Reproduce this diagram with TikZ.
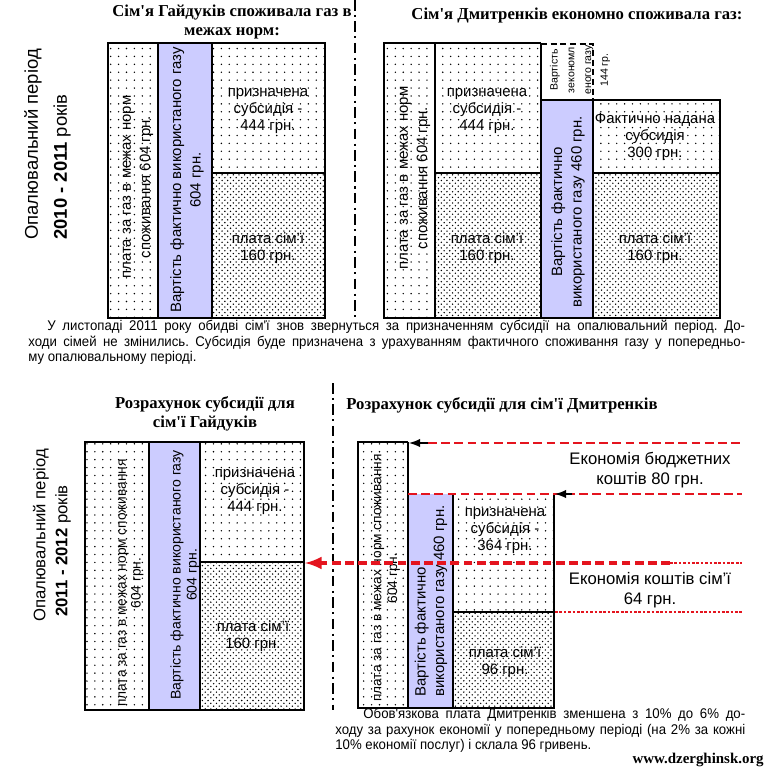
\documentclass[tikz,border=0pt]{standalone}
\usepackage{fontspec}
\setmainfont{Liberation Sans}
\newfontfamily\titlefont{Liberation Serif}
\newfontfamily\storyfont{Liberation Sans}[FakeStretch=0.94]
\usetikzlibrary{patterns}

\definecolor{gasblue}{RGB}{204,204,255}
\definecolor{cutred}{RGB}{228,20,30}

\pgfdeclarepatternformonly{sparsedots}{\pgfqpoint{-1pt}{-1pt}}{\pgfqpoint{1pt}{1pt}}{\pgfqpoint{4.5pt}{4.5pt}}%
  {\pgfpathcircle{\pgfqpoint{0pt}{0pt}}{0.45pt}\pgfusepath{fill}}
\pgfdeclarepatternformonly{densedots}{\pgfqpoint{-1pt}{-1pt}}{\pgfqpoint{3.5pt}{3.5pt}}{\pgfqpoint{3.2pt}{3.2pt}}%
  {\pgfpathcircle{\pgfqpoint{0pt}{0pt}}{0.45pt}\pgfpathcircle{\pgfqpoint{1.6pt}{1.6pt}}{0.45pt}\pgfusepath{fill}}

\tikzset{
  edge/.style={line width=1.5pt},
  sparse/.style={pattern=sparsedots},
  dense/.style={pattern=densedots},
  gas/.style={fill=gasblue},
  cell/.style={font=\fontsize{8.5}{9.8}\selectfont, align=center, inner sep=0pt},
  upcell/.style={cell, rotate=90, font=\fontsize{8.5}{11}\selectfont},
  side/.style={rotate=90, align=left, anchor=west, inner sep=0pt},
  head/.style={font=\titlefont\bfseries\fontsize{9.5}{11}\selectfont, align=center, inner sep=0pt},
  note/.style={font=\fontsize{9.5}{11.5}\selectfont, align=center, inner sep=0pt},
  saving/.style={cutred, line width=1.6pt, dash pattern=on 5pt off 2.5pt},
  thinsaving/.style={cutred, line width=0.6pt, dash pattern=on 1.5pt off 1pt},
  divider/.style={line width=1.4pt, dash pattern=on 6pt off 2.5pt on 1.2pt off 2.5pt},
  story/.style={anchor=north west, align=justify, inner sep=0pt, font=\storyfont\frenchspacing\fontsize{8}{8.8}\selectfont}
}

\begin{document}
\begin{tikzpicture}[x=0.02cm, y=-0.02cm]
    \useasboundingbox (0,0) rectangle (768,768);
    % 2010 - 2011, Гайдуки
    \path[sparse] (108,43) rectangle (158,318);
    \path[gas] (158,43) rectangle (212,318);
    \path[sparse] (212,43) rectangle (325,173);
    \path[dense] (212,173) rectangle (325,318);
    \draw[edge] (108,43) rectangle (325,318);
    \draw[edge] (158,43)--(158,318) (212,43)--(212,318) (212,173)--(325,173);
    \node[head] (tlHead) at (232,22) {Сім'я Гайдуків споживала газ в\\межах норм:};
    \node[side, font=\fontsize{10.5}{12}\selectfont] (tlPeriod) at (33,240) {Опалювальний період};
    \node[side, font=\fontsize{10.5}{12}\selectfont] (tlYears) at (62,240) {\textbf{2010 - 2011} років};
    \node[upcell] (tlNorm) at (138,187) {плата за газ в межах норм\\споживання 604 грн.};
    \node[upcell] (tlCost) at (187,180) {Вартість фактично використаного газу\\604 грн.};
    \node[cell] (tlSub) at (268,111) {призначена\\субсидія -\\444 грн.};
    \node[cell] (tlPay) at (268,248) {плата сім'ї\\160 грн.};

    % 2010 - 2011, Дмитренки
    \path[sparse] (384,43) rectangle (435,318);
    \path[sparse] (435,43) rectangle (541,173);
    \path[dense] (435,173) rectangle (541,318);
    \path[gas] (541,100) rectangle (593,318);
    \path[sparse] (593,100) rectangle (720,173);
    \path[dense] (593,173) rectangle (720,318);
    \draw[edge] (541,43)--(384,43)--(384,318)--(720,318)--(720,100)--(541,100);
    \draw[edge] (435,43)--(435,318) (541,43)--(541,318) (593,100)--(593,318);
    \draw[edge] (435,173)--(541,173) (593,173)--(720,173);
    \draw[line width=1.2pt, dash pattern=on 3.5pt off 2pt] (541,44)--(593,44)--(593,100);
    \node[head] (trHead) at (577,15) {Сім'я Дмитренків економно споживала газ:};
    \node[upcell] (trNorm) at (415,178) {плата за газ в межах норм\\споживання 604 грн.};
    \node[cell] (trSub) at (487,111) {призначена\\субсидія -\\444 грн.};
    \node[cell] (trPay) at (487,248) {плата сім'ї\\160 грн.};
    \node[upcell, font=\fontsize{6}{9.5}\selectfont] (trSaved) at (580,70) {Вартість\\зекономл\\еного газу\\144 гр.};
    \node[upcell] (trCost) at (568,212) {Вартість фактично\\використаного газу 460 грн.};
    \node[cell] (trGiven) at (655,137) {Фактично надана\\субсидія\\300 грн.};
    \node[cell] (trPay2) at (655,248) {плата сім'ї\\160 грн.};

    \draw[divider] (355,0)--(355,318);
    \node[story, text width=14.34cm] (midText) at (28,320) {\hspace*{10.8pt}У листопаді 2011 року обидві сім'ї знов звернуться за призначенням субсидії на опалювальний період. До-\linebreak
      ходи сімей не змінились. Субсидія буде призначена з урахуванням фактичного споживання газу у попередньо-\linebreak
      му опалювальному періоді.};
    \draw[divider] (333,383)--(333,710);

    % 2011 - 2012, Гайдуки
    \path[sparse] (85,442) rectangle (149,710);
    \path[gas] (149,442) rectangle (200,710);
    \path[sparse] (200,442) rectangle (304,562);
    \path[dense] (200,562) rectangle (304,710);
    \draw[edge] (85,442) rectangle (304,710);
    \draw[edge] (149,442)--(149,710) (200,442)--(200,710) (200,562)--(304,562);
    \node[head] (blHead) at (205,414) {Розрахунок субсидії для\\сім'ї Гайдуків};
    \node[side, font=\fontsize{9.5}{11}\selectfont] (blPeriod) at (41,622) {Опалювальний період};
    \node[side, font=\fontsize{9.5}{11}\selectfont] (blYears) at (63,617) {\textbf{2011 - 2012} років};
    \node[upcell, font=\fontsize{7.8}{8.5}\selectfont] (blNorm) at (131,583) {плата за газ в межах норм споживання\\604 грн.};
    \node[upcell, font=\fontsize{8}{9}\selectfont] (blCost) at (185,575) {Вартість фактично використаного газу\\604 грн.};
    \node[cell] (blSub) at (255,492) {призначена\\субсидія -\\444 грн.};
    \node[cell] (blPay) at (253,636) {плата сім'ї\\160 грн.};

    % 2011 - 2012, Дмитренки
    \path[sparse] (358,442) rectangle (408,708);
    \path[gas] (408,494) rectangle (453,708);
    \path[sparse] (453,494) rectangle (554,612);
    \path[dense] (453,612) rectangle (554,708);
    \draw[edge] (408,442)--(358,442)--(358,708)--(554,708)--(554,494);
    \draw[edge] (408,442)--(408,708) (453,494)--(453,708);
    \draw[line width=0.8pt] (453,612)--(554,612);
    \node[head] (brHead) at (502,405) {Розрахунок субсидії для сім'ї Дмитренків};
    \node[upcell, font=\fontsize{7.8}{9}\selectfont] (brNorm) at (387,578) {плата за газ в межах норм споживання\\604 грн.};
    \node[upcell, align=left, anchor=west, font=\fontsize{8.5}{10.5}\selectfont] (brCost) at (431,697) {Вартість фактично\\використаного газу 460 грн.};
    \node[cell] (brSub) at (505,531) {призначена\\субсидія -\\364 грн.};
    \node[cell] (brPay) at (505,662) {плата сім'ї\\96 грн.};

    % економія
    \coordinate (budgetTop) at (409,443);
    \coordinate (budgetLow) at (555,494);
    \coordinate (familyFrom) at (670,563);
    \coordinate (familyTo) at (305,563);
    \draw[saving] (428,443)--(742,443);
    \draw[-latex, line width=1.2pt] (428,443)--(budgetTop);
    \draw[saving] (408,494)--(742,494);
    \draw[-latex, line width=1.2pt] (572,494)--(budgetLow);
    \draw[thinsaving] (familyFrom)--(742,563);
    \draw[thinsaving] (555,612)--(742,612);
    \draw[saving, line width=2.2pt, -latex] (familyFrom)--(familyTo);
    \node[note] (budgetNote) at (650,470) {Економія бюджетних\\коштів 80 грн.};
    \node[note] (familyNote) at (650,590) {Економія коштів сім'ї\\64 грн.};

    \node[story, text width=8.2cm] (endText) at (335,708) {\hspace*{16pt}Обов'язкова плата Дмитренків зменшена з 10\% до 6\% до-\linebreak
      ходу за рахунок економії у попередньому періоді (на 2\% за кожні\linebreak
      10\% економії послуг) і склала 96 гривень.};
    \node[anchor=east, inner sep=0pt, font=\titlefont\bfseries\fontsize{8.5}{10}\selectfont] (site) at (764,760) {www.dzerghinsk.org};
\end{tikzpicture}
\end{document}
